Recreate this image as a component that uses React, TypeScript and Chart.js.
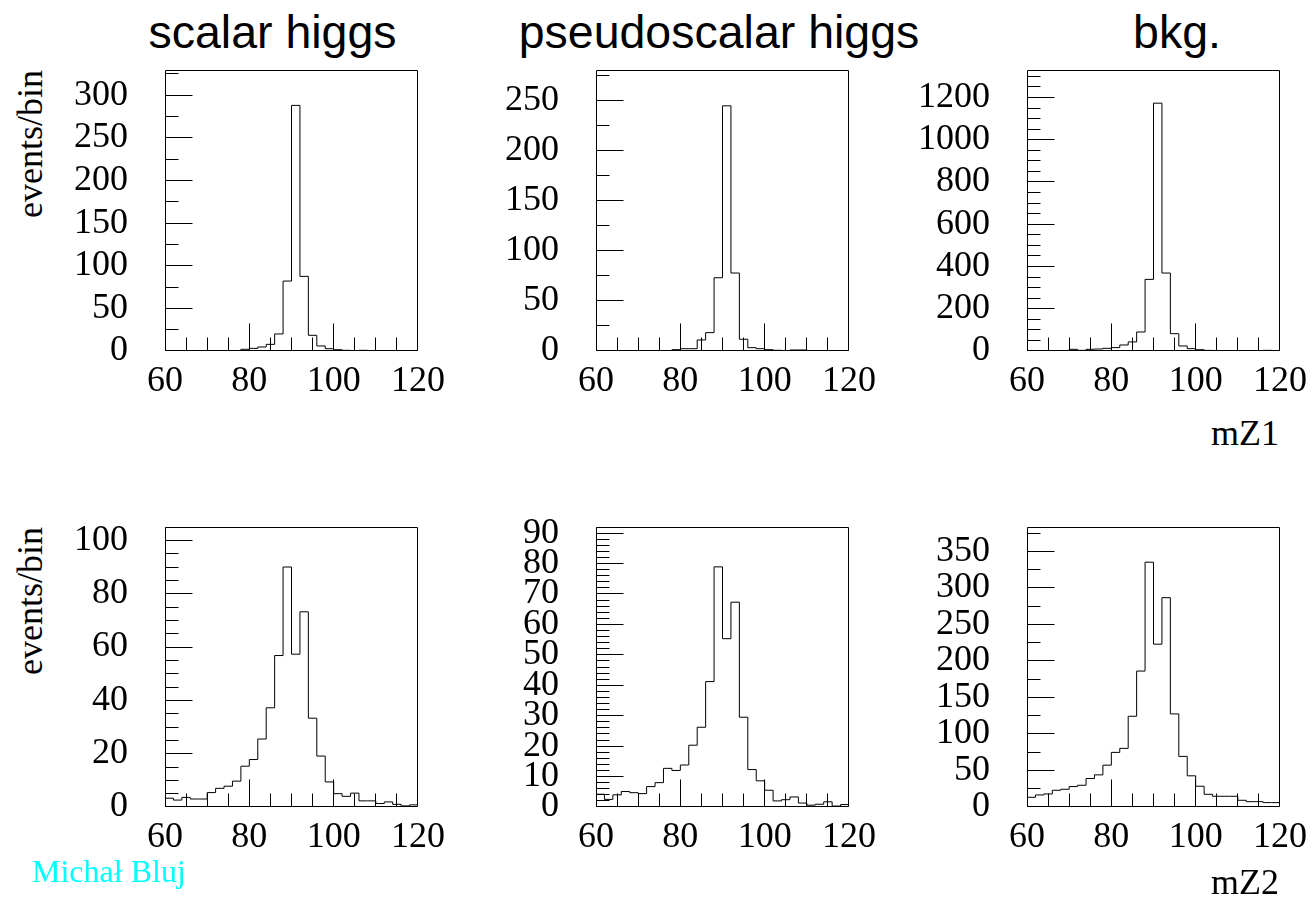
import React, { useEffect, useRef } from "react";
import { Chart, registerables } from "chart.js";

Chart.register(...registerables);

// ---- binning / axes ----
const X_MIN = 60;
const X_MAX = 120;
const BIN_WIDTH = 2;
const X_TICK_VALUES = [60, 80, 100, 120];
const X_MAJOR_STEP = 20;
const X_MINOR_STEP = 5;

// ---- texts ----
const PANEL_TITLES = ["scalar higgs", "pseudoscalar higgs", "bkg."];
const Y_TITLE = "events/bin";
const X_TITLES = ["mZ1", "mZ2"];
const CREDIT = "Michał Bluj";

// ---- series (events per 2 GeV bin, 60..120) ----
const scalarMZ1 = [0, 0, 0, 0, 0, 0, 0.6, 0.5, 0, 2, 3.1, 4.7, 7.8, 20, 82, 288, 87.5, 18.4, 5.9, 2.7, 1.5, 0.8, 0.4, 0.8, 0.2, 0, 0, 0, 0, 0];
const pseudoMZ1 = [0, 0, 0, 0, 0, 0, 0.5, 0.5, 0, 1.3, 2.3, 2.3, 11, 18.3, 73, 244.3, 77.7, 11.7, 3.3, 2.3, 1.3, 0.7, 0.3, 1, 1, 0, 0, 0, 0, 0];
const bkgMZ1 = [2, 1, 2, 1, 2, 8, 3, 8, 9.5, 12.7, 16, 28.5, 43, 90, 339, 1173, 369, 82, 23.8, 11, 6, 3, 2, 2, 2, 2, 2, 1, 3, 2];
const scalarMZ2 = [3.3, 2.6, 3.6, 3.0, 3.0, 5.4, 7.0, 7.8, 9.7, 15.3, 17.8, 25.5, 37.2, 56.8, 90, 57.3, 73.2, 33.3, 19.1, 9.4, 5.0, 4.0, 5.2, 2.3, 2.3, 1.3, 1.9, 1.0, 0.4, 0.8];
const pseudoMZ2 = [4.2, 2.5, 4.0, 5.1, 4.7, 4.4, 6.7, 8.0, 12.7, 12.0, 13.8, 20.3, 26.2, 41.2, 78.9, 55.3, 67.3, 29.5, 12.3, 8.6, 5.5, 2.0, 2.4, 3.3, 1.3, 0.6, 0.9, 1.7, 0.3, 0.8];
const bkgMZ2 = [13.3, 16.5, 17.9, 22.9, 24.3, 28, 29.8, 39, 44, 57.3, 74.8, 80.3, 124.3, 186.2, 335.3, 223, 286.7, 127.5, 69.3, 42.7, 28.4, 17.4, 14.7, 14.7, 14.7, 9.2, 7.3, 7.3, 6.0, 6.0];

// ---- y axis ranges / divisions ----
const yMaxMZ1 = [329.5, 280, 1330];
const yMajorMZ1 = [50, 50, 200];
const yMinorMZ1 = [25, 25, 50];
const yMaxMZ2 = [105, 92, 383.5];
const yMajorMZ2 = [20, 10, 50];
const yMinorMZ2 = [5, 2, 25];

const AXIS_W = 110;
const PAD_TOP = 62;
const PAD_RIGHT = 34;
const AXIS_H = 62;
const SERIF = "'Liberation Serif', 'Times New Roman', serif";
const SANS = "'Liberation Sans', Arial, sans-serif";

type PanelProps = {
  values: number[];
  yMax: number;
  yMajor: number;
  yMinor: number;
  plotLeft: number;
  plotTop: number;
  plotW: number;
  plotH: number;
};

function Panel({ values, yMax, yMajor, yMinor, plotLeft, plotTop, plotW, plotH }: PanelProps) {
  const ref = useRef<HTMLCanvasElement>(null);
  const W = AXIS_W + plotW + PAD_RIGHT;
  const H = PAD_TOP + plotH + AXIS_H;

  useEffect(() => {
    const points = values.map((v, i) => ({ x: X_MIN + i * BIN_WIDTH, y: v }));
    points.push({ x: X_MAX, y: values[values.length - 1] });

    const framePlugin = {
      id: "rootFrame",
      afterDatasetsDraw(chart: any) {
        const { ctx, chartArea: a } = chart;
        const xs = chart.scales.x;
        const ys = chart.scales.y;
        const L = a.left + 0.5;
        const R = a.right - 0.5;
        const T = a.top + 0.5;
        const B = a.bottom - 0.5;
        ctx.save();
        ctx.strokeStyle = "#000";
        ctx.lineWidth = 1;
        ctx.beginPath();
        ctx.rect(L, T, R - L, B - T);
        for (let v = X_MIN; v <= X_MAX + 1e-9; v += X_MINOR_STEP) {
          let px = Math.floor(xs.getPixelForValue(v)) + 0.5;
          px = Math.min(R, Math.max(L, px));
          const len = Math.abs((v - X_MIN) % X_MAJOR_STEP) < 1e-9 ? 27 : 13;
          ctx.moveTo(px, B);
          ctx.lineTo(px, B - len);
        }
        for (let v = 0; v <= yMax + 1e-9; v += yMinor) {
          let py = Math.floor(ys.getPixelForValue(v)) + 0.5;
          py = Math.min(B, Math.max(T, py));
          const r = v % yMajor;
          const len = r < 1e-9 || yMajor - r < 1e-9 ? 27 : 13;
          ctx.moveTo(L, py);
          ctx.lineTo(L + len, py);
        }
        ctx.stroke();
        ctx.restore();
      },
    };

    const chart = new Chart(ref.current as HTMLCanvasElement, {
      type: "line",
      data: {
        datasets: [
          {
            data: points,
            stepped: "before",
            borderColor: "#000",
            borderWidth: 1,
            pointRadius: 0,
            fill: false,
          },
        ],
      },
      options: {
        animation: false,
        responsive: false,
        events: [],
        layout: { padding: { left: 0, top: PAD_TOP, right: PAD_RIGHT, bottom: 0 } },
        plugins: {
          legend: { display: false },
          tooltip: { enabled: false },
        },
        scales: {
          x: {
            type: "linear",
            min: X_MIN,
            max: X_MAX,
            grid: { display: false, drawTicks: false },
            border: { display: false },
            ticks: {
              color: "#000",
              font: { family: SERIF, size: 36 },
              padding: 9,
              maxRotation: 0,
              autoSkip: false,
              callback: (v: any) => String(v),
            },
            afterBuildTicks: (s: any) => {
              s.ticks = X_TICK_VALUES.map((v) => ({ value: v }));
            },
            afterFit: (s: any) => {
              s.height = AXIS_H;
            },
          },
          y: {
            type: "linear",
            min: 0,
            max: yMax,
            grid: { display: false, drawTicks: false },
            border: { display: false },
            ticks: {
              stepSize: yMajor,
              includeBounds: false,
              color: "#000",
              font: { family: SERIF, size: 36 },
              padding: 37,
              autoSkip: false,
              callback: (v: any) => String(v),
            },
            afterFit: (s: any) => {
              s.width = AXIS_W;
            },
          },
        },
      } as any,
      plugins: [framePlugin],
    });
    return () => chart.destroy();
  }, [values, yMax, yMajor, yMinor]);

  return (
    <canvas
      ref={ref}
      width={W}
      height={H}
      style={{ position: "absolute", left: plotLeft - AXIS_W, top: plotTop - PAD_TOP, width: W, height: H }}
    />
  );
}

const COL_LEFT = [165, 596, 1027];
const ROW_TOP = [70, 527];
const PLOT_W = 255;
const ROW_H = [281, 280];

export default function App() {
  const rows = [
    { data: [scalarMZ1, pseudoMZ1, bkgMZ1], yMax: yMaxMZ1, yMajor: yMajorMZ1, yMinor: yMinorMZ1 },
    { data: [scalarMZ2, pseudoMZ2, bkgMZ2], yMax: yMaxMZ2, yMajor: yMajorMZ2, yMinor: yMinorMZ2 },
  ];
  const titleCenters = [272.5, 719, 1177];
  const xTitleBaselines = [445, 894];
  return (
    <div
      style={{
        position: "fixed",
        left: 0,
        top: 0,
        width: 1313,
        height: 906,
        overflow: "hidden",
        background: "#fff",
      }}
    >
      {PANEL_TITLES.map((t, i) => (
        <div
          key={"t" + i}
          style={{
            position: "absolute",
            left: titleCenters[i],
            top: 9,
            transform: "translateX(-50%)",
            fontFamily: SANS,
            fontSize: 46.5,
            lineHeight: 1,
            whiteSpace: "nowrap",
            color: "#000",
          }}
        >
          {t}
        </div>
      ))}
      {rows.map((row, r) =>
        row.data.map((vals, c) => (
          <Panel
            key={r + "-" + c}
            values={vals}
            yMax={row.yMax[c]}
            yMajor={row.yMajor[c]}
            yMinor={row.yMinor[c]}
            plotLeft={COL_LEFT[c]}
            plotTop={ROW_TOP[r]}
            plotW={PLOT_W}
            plotH={ROW_H[r]}
          />
        ))
      )}
      {ROW_TOP.map((top, r) => (
        <div
          key={"y" + r}
          style={{
            position: "absolute",
            left: 0,
            top: 0,
            transformOrigin: "0 0",
            transform: `translate(12px, ${top}px) rotate(-90deg) translateX(-100%)`,
            fontFamily: SERIF,
            fontSize: 36,
            lineHeight: 1,
            whiteSpace: "nowrap",
            color: "#000",
          }}
        >
          {Y_TITLE}
        </div>
      ))}
      {X_TITLES.map((t, r) => (
        <div
          key={"x" + r}
          style={{
            position: "absolute",
            left: 1279,
            top: xTitleBaselines[r] - 30.15,
            transform: "translateX(-100%)",
            fontFamily: SERIF,
            fontSize: 36,
            lineHeight: 1,
            whiteSpace: "nowrap",
            color: "#000",
          }}
        >
          {t}
        </div>
      ))}
      <div
        style={{
          position: "absolute",
          left: 32,
          top: 882 - 26.8,
          fontFamily: SERIF,
          fontSize: 32,
          lineHeight: 1,
          whiteSpace: "nowrap",
          color: "#00ffff",
        }}
      >
        {CREDIT}
      </div>
    </div>
  );
}
